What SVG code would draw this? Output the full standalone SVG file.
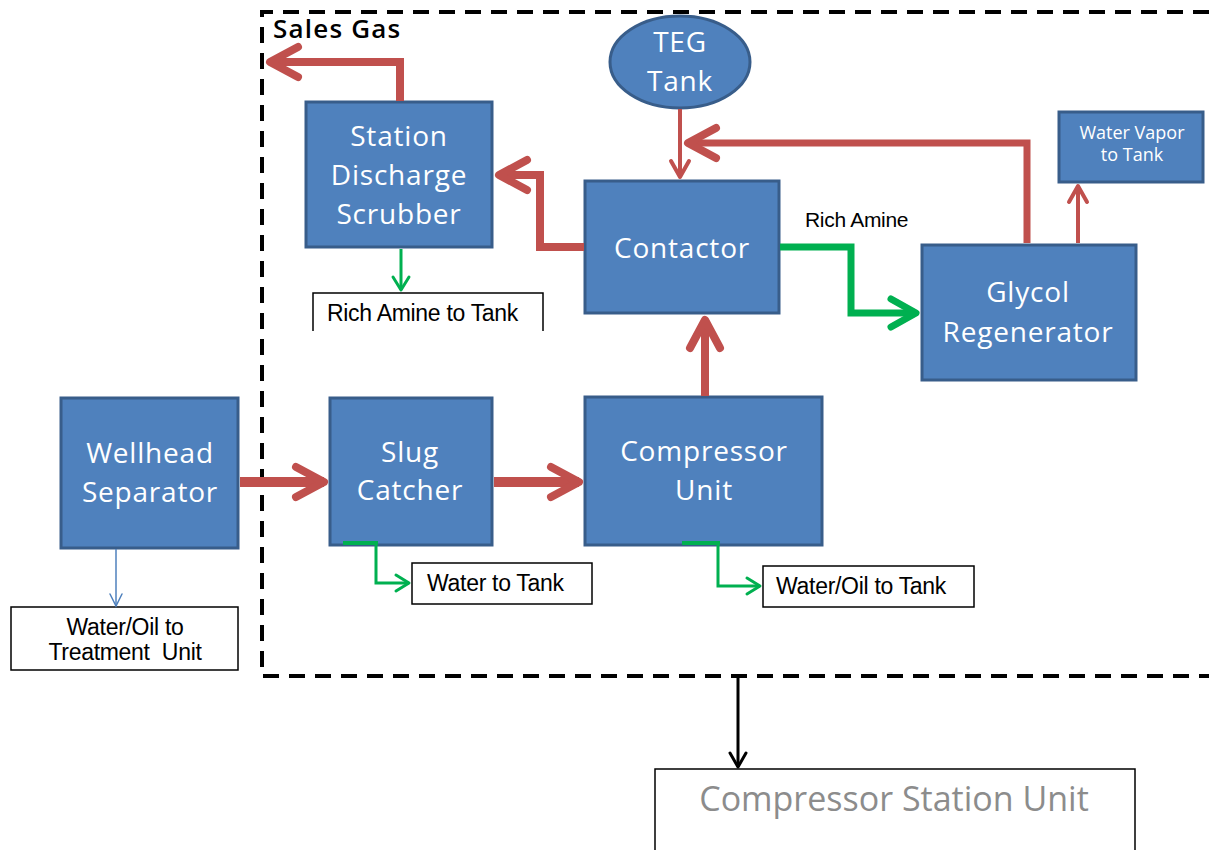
<svg xmlns="http://www.w3.org/2000/svg" width="1209" height="850" viewBox="0 0 1209 850">
  <style>
    .node { fill: #4F81BD; stroke: #385D8A; stroke-width: 3; }
    .ntext { font-family: "Open Sans", Lato, sans-serif; font-size: 28px; letter-spacing: 0.8px; fill: #FFFFFF; text-anchor: middle; }
    .stext { font-family: "Open Sans", Lato, sans-serif; font-size: 18px; fill: #FFFFFF; text-anchor: middle; }
    .box { fill: #FFFFFF; stroke: #000000; stroke-width: 1.5; }
    .btext { font-family: "Liberation Sans", Arial, sans-serif; font-size: 23px; letter-spacing: -0.3px; fill: #000000; }
    .red { fill: none; stroke: #C0504D; stroke-linejoin: miter; }
    .green { fill: none; stroke: #00B050; stroke-linejoin: miter; }
  </style>
  <defs>
    <marker id="redBig" markerUnits="userSpaceOnUse" viewBox="-40 -25 50 50" refX="0" refY="0" markerWidth="50" markerHeight="50" orient="auto">
      <path d="M-28,-15 L0,0 L-28,15" fill="none" stroke="#C0504D" stroke-width="8" stroke-linecap="round" stroke-linejoin="round"/>
    </marker>
    <marker id="redSmall" markerUnits="userSpaceOnUse" viewBox="-30 -20 40 40" refX="0" refY="0" markerWidth="40" markerHeight="40" orient="auto">
      <path d="M-16,-9 L0,0 L-16,9" fill="none" stroke="#C0504D" stroke-width="4" stroke-linecap="round" stroke-linejoin="round"/>
    </marker>
    <marker id="greenBig" markerUnits="userSpaceOnUse" viewBox="-40 -25 50 50" refX="0" refY="0" markerWidth="50" markerHeight="50" orient="auto">
      <path d="M-25,-14 L0,0 L-25,14" fill="none" stroke="#00B050" stroke-width="7" stroke-linecap="round" stroke-linejoin="round"/>
    </marker>
    <marker id="greenSmall" markerUnits="userSpaceOnUse" viewBox="-30 -20 40 40" refX="0" refY="0" markerWidth="40" markerHeight="40" orient="auto">
      <path d="M-13,-8 L0,0 L-13,8" fill="none" stroke="#00B050" stroke-width="3" stroke-linecap="round" stroke-linejoin="round"/>
    </marker>
    <marker id="blueThin" markerUnits="userSpaceOnUse" viewBox="-20 -15 30 30" refX="0" refY="0" markerWidth="30" markerHeight="30" orient="auto">
      <path d="M-12,-6 L0,0 L-12,6" fill="none" stroke="#4F81BD" stroke-width="1.5" stroke-linecap="round"/>
    </marker>
    <marker id="blackArrow" markerUnits="userSpaceOnUse" viewBox="-25 -15 35 30" refX="0" refY="0" markerWidth="35" markerHeight="30" orient="auto">
      <path d="M-14,-8 L0,0 L-14,8" fill="none" stroke="#000000" stroke-width="3" stroke-linecap="round" stroke-linejoin="round"/>
    </marker>
  </defs>

  <rect width="1209" height="850" fill="#FFFFFF"/>

  <!-- station boundary -->
  <g id="boundary">
    <path d="M1209,12 L262,12 L262,676 L1209,676" fill="none" stroke="#000000" stroke-width="4" stroke-dasharray="16,10"/>
    <text x="273" y="38" font-family="'Open Sans', Lato, sans-serif" font-size="26" font-weight="600" letter-spacing="1.2" fill="#000000">Sales Gas</text>
  </g>

  <g id="scrubber">
    <rect class="node" x="306" y="102" width="186" height="145"/>
    <text class="ntext" x="399" y="146">Station</text>
    <text class="ntext" x="399" y="185">Discharge</text>
    <text class="ntext" x="399" y="224">Scrubber</text>
  </g>

  <g id="teg-tank">
    <ellipse class="node" cx="680" cy="62" rx="70" ry="46"/>
    <text class="ntext" x="680" y="52">TEG</text>
    <text class="ntext" x="680" y="91">Tank</text>
  </g>

  <g id="contactor">
    <rect class="node" x="585" y="181" width="194" height="132"/>
    <text class="ntext" x="682" y="258">Contactor</text>
  </g>

  <g id="water-vapor">
    <rect class="node" x="1059" y="112" width="144" height="70"/>
    <text class="stext" x="1132" y="139">Water Vapor</text>
    <text class="stext" x="1132" y="161">to Tank</text>
  </g>

  <g id="glycol-regenerator">
    <rect class="node" x="922" y="245" width="214" height="135"/>
    <text class="ntext" x="1028" y="302">Glycol</text>
    <text class="ntext" x="1028" y="342">Regenerator</text>
  </g>

  <g id="wellhead-separator">
    <rect class="node" x="61" y="398" width="177" height="150"/>
    <text class="ntext" x="150" y="463">Wellhead</text>
    <text class="ntext" x="150" y="502">Separator</text>
  </g>

  <g id="slug-catcher">
    <rect class="node" x="330" y="398" width="162" height="147"/>
    <text class="ntext" x="410" y="462">Slug</text>
    <text class="ntext" x="410" y="500">Catcher</text>
  </g>

  <g id="compressor-unit">
    <rect class="node" x="585" y="397" width="237" height="148"/>
    <text class="ntext" x="704" y="461">Compressor</text>
    <text class="ntext" x="704" y="500">Unit</text>
  </g>

  <g id="rich-amine-tank">
    <path d="M313,331 L313,293 L543,293 L543,331" fill="#FFFFFF" stroke="#000000" stroke-width="1.5"/>
    <text class="btext" x="327" y="321">Rich Amine to Tank</text>
  </g>

  <g id="rich-amine-label">
    <text x="805" y="227" font-family="'Liberation Sans', Arial, sans-serif" font-size="21" letter-spacing="-0.3" fill="#000000">Rich Amine</text>
  </g>

  <g id="treatment-unit">
    <rect class="box" x="11" y="607" width="227" height="63"/>
    <text class="btext" x="125" y="635" text-anchor="middle">Water/Oil to</text>
    <text class="btext" x="125" y="660" text-anchor="middle" xml:space="preserve">Treatment  Unit</text>
  </g>

  <g id="water-tank">
    <rect class="box" x="412" y="563" width="180" height="41"/>
    <text class="btext" x="427" y="591">Water to Tank</text>
  </g>

  <g id="water-oil-tank">
    <rect class="box" x="763" y="566" width="211" height="41"/>
    <text class="btext" x="776" y="594">Water/Oil to Tank</text>
  </g>

  <g id="compressor-station">
    <path d="M655,851 L655,769 L1135,769 L1135,851" fill="#FFFFFF" stroke="#000000" stroke-width="1.5"/>
    <text x="894" y="811" text-anchor="middle" font-family="'Open Sans', Lato, sans-serif" font-size="34" fill="#8C8C8C">Compressor Station Unit</text>
  </g>

  <!-- connectors -->
  <g id="connectors">
    <path class="red" stroke-width="8" d="M400,101 L400,62 L270,62" marker-end="url(#redBig)"/>
    <path class="red" stroke-width="8" d="M584,247 L540,247 L540,175 L499,175" marker-end="url(#redBig)"/>
    <path class="red" stroke-width="4" d="M680,109 L680,177" marker-end="url(#redSmall)"/>
    <path class="red" stroke-width="7" d="M1027,243 L1027,143 L688,143" marker-end="url(#redBig)"/>
    <path class="red" stroke-width="4" d="M1078,243 L1078,186" marker-end="url(#redSmall)"/>
    <path class="red" stroke-width="8" d="M705,396 L705,320" marker-end="url(#redBig)"/>
    <path class="red" stroke-width="10" d="M240,482 L324,482" marker-end="url(#redBig)"/>
    <path class="red" stroke-width="10" d="M494,482 L579,482" marker-end="url(#redBig)"/>

    <path class="green" stroke-width="7" d="M780,247 L851,247 L851,313 L916,313" marker-end="url(#greenBig)"/>
    <path class="green" stroke-width="3" d="M401,249 L401,290" marker-end="url(#greenSmall)"/>
    <path class="green" stroke-width="4" d="M343,543 L378,543"/>
    <path class="green" stroke-width="3" d="M376,544 L376,583 L409,583" marker-end="url(#greenSmall)"/>
    <path class="green" stroke-width="4" d="M682,543 L720,543"/>
    <path class="green" stroke-width="3" d="M718,544 L718,586 L760,586" marker-end="url(#greenSmall)"/>

    <path fill="none" stroke="#4F81BD" stroke-width="1.5" d="M116,549 L116,606" marker-end="url(#blueThin)"/>
    <path fill="none" stroke="#000000" stroke-width="3" d="M738,678 L738,767" marker-end="url(#blackArrow)"/>
  </g>
</svg>
